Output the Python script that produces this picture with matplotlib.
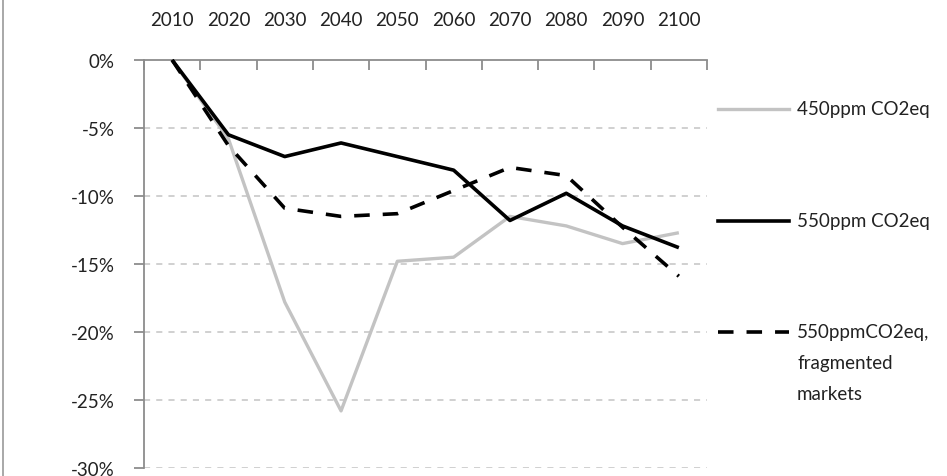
import matplotlib
matplotlib.use("Agg")
import matplotlib.pyplot as plt
from matplotlib.lines import Line2D
from matplotlib.ticker import FixedLocator, FuncFormatter

plt.rcParams['font.family'] = ['Lato', 'DejaVu Sans']

years = [2010, 2020, 2030, 2040, 2050, 2060, 2070, 2080, 2090, 2100]
ppm450 = [0.0, -0.058, -0.178, -0.258, -0.148, -0.145, -0.115, -0.122, -0.135, -0.127]
ppm550 = [0.0, -0.055, -0.071, -0.061, -0.071, -0.081, -0.118, -0.098, -0.122, -0.138]
ppm550_frag = [0.0, -0.063, -0.109, -0.115, -0.113, -0.096, -0.079, -0.085, -0.123, -0.159]
series_names = ["450ppm CO2eq", "550ppm CO2eq", "550ppmCO2eq,\nfragmented\nmarkets"]

W, H = 947, 477
FS = 13.5
fig = plt.figure(figsize=(W / 100, H / 100), dpi=100)
ax = fig.add_axes([144 / W, 1 - 469 / H, (707 - 144) / W, (469 - 61) / H])

axis_col = "#8c8c8c"
grid_col = "#c4c4c4"
txt_col = "#222222"

x = list(range(len(years)))
ax.plot(x, ppm450, color="#c3c3c3", lw=2.4, solid_capstyle="butt", zorder=3, clip_on=False)
ax.plot(x, ppm550, color="black", lw=2.6, solid_capstyle="butt", zorder=4, clip_on=False)
ax.plot(x, ppm550_frag, color="black", lw=2.6, dashes=(4.3, 3.6), dash_capstyle="butt",
        zorder=4, clip_on=False)

ax.set_xlim(-0.5, len(years) - 0.5)
ax.set_ylim(-0.30, 0)

# category labels on top, tick marks between categories
ax.xaxis.tick_top()
ax.set_xticks(x)
ax.set_xticklabels([str(y) for y in years])
ax.xaxis.set_minor_locator(FixedLocator([i - 0.5 for i in range(len(years) + 1)]))
ax.tick_params(axis="x", which="major", length=0, pad=23, labelsize=FS, colors=txt_col)
ax.tick_params(axis="x", which="minor", length=7, width=1.3, direction="in", color=axis_col)

yt = [0, -0.05, -0.10, -0.15, -0.20, -0.25, -0.30]
ax.set_yticks(yt)
ax.yaxis.set_major_formatter(FuncFormatter(lambda v, p: "%d%%" % round(v * 100)))
ax.tick_params(axis="y", length=7, width=1.3, direction="out", color=axis_col,
               labelsize=FS, labelcolor=txt_col, pad=14)

for v in yt[1:]:
    ax.axhline(v, color=grid_col, lw=1.1, dashes=(4, 4), zorder=1)

for s in ("right", "bottom"):
    ax.spines[s].set_visible(False)
for s in ("left", "top"):
    ax.spines[s].set_color(axis_col)
    ax.spines[s].set_linewidth(1.3)

# legend drawn by hand to the right of the plot
leg_y = [110, 222, 333]
leg_styles = [dict(color="#c3c3c3", lw=2.4),
              dict(color="black", lw=2.6),
              dict(color="black", lw=2.6, dashes=(4.3, 3.6), dash_capstyle="butt")]
for yy, st, name in zip(leg_y, leg_styles, series_names):
    fig.add_artist(Line2D([718 / W, 789 / W], [1 - yy / H, 1 - yy / H], **st))
    for k, ln in enumerate(name.split("\n")):
        fig.text(797 / W, 1 - (yy + k * 31) / H, ln, ha="left", va="center",
                 fontsize=FS, color=txt_col)

# chart frame edge on the left
fig.add_artist(Line2D([2.5 / W, 2.5 / W], [0, 1], color="#9a9a9a", lw=1.2))

fig.savefig("out.png", dpi=100)
